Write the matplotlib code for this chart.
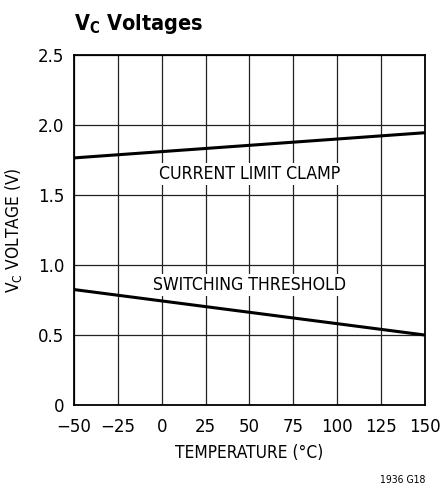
import matplotlib
matplotlib.use("Agg")
import matplotlib.pyplot as plt

plt.rcParams['font.family'] = ['DejaVu Sans']
plt.rcParams['font.stretch'] = 'condensed'

temp = [-50, 150]
clamp = [1.765, 1.945]
threshold = [0.825, 0.50]

x_ticks = [-50, -25, 0, 25, 50, 75, 100, 125, 150]
x_labels = ["\u221250", "\u221225", "0", "25", "50", "75", "100", "125", "150"]
y_ticks = [0, 0.5, 1.0, 1.5, 2.0, 2.5]
y_labels = ["0", "0.5", "1.0", "1.5", "2.0", "2.5"]


def main():
    fig = plt.figure(figsize=(4.4, 4.91), dpi=100)
    ax = fig.add_axes([0.168, 0.175, 0.798, 0.713])

    ax.plot(temp, clamp, color="black", lw=2.2, solid_capstyle="butt", zorder=3)
    ax.plot(temp, threshold, color="black", lw=2.2, solid_capstyle="butt", zorder=3)

    ax.set_xlim(-50, 150)
    ax.set_ylim(0, 2.5)
    ax.set_xticks(x_ticks)
    ax.set_xticklabels(x_labels, fontstretch="normal", fontsize=12)
    ax.set_yticks(y_ticks)
    ax.set_yticklabels(y_labels, fontstretch="normal", fontsize=12)
    ax.tick_params(length=0)
    ax.tick_params(axis="x", pad=9)
    ax.tick_params(axis="y", pad=7)
    ax.grid(True, color="#222222", lw=0.9)
    for s in ax.spines.values():
        s.set_linewidth(1.3)

    box = dict(facecolor="white", edgecolor="none", pad=1.5)
    ax.text(50, 1.65, "CURRENT LIMIT CLAMP", ha="center", va="center",
            fontsize=12.7, bbox=box, zorder=4)
    ax.text(50, 0.86, "SWITCHING THRESHOLD", ha="center", va="center",
            fontsize=12.7, bbox=box, zorder=4)

    ax.set_xlabel("TEMPERATURE (\u00b0C)", fontsize=12.4, labelpad=6)
    ax.set_ylabel("V$_\\mathregular{C}$ VOLTAGE (V)", fontsize=12.4, labelpad=10)

    fig.text(0.168, 0.952, "V$_\\mathregular{C}$ Voltages", fontsize=15.5,
             fontweight="bold", va="center", ha="left")
    fig.text(0.966, 0.022, "1936 G18", fontsize=7.5, ha="right", va="center")

    fig.savefig("out.png", dpi=100)


if __name__ == '__main__':
    main()
